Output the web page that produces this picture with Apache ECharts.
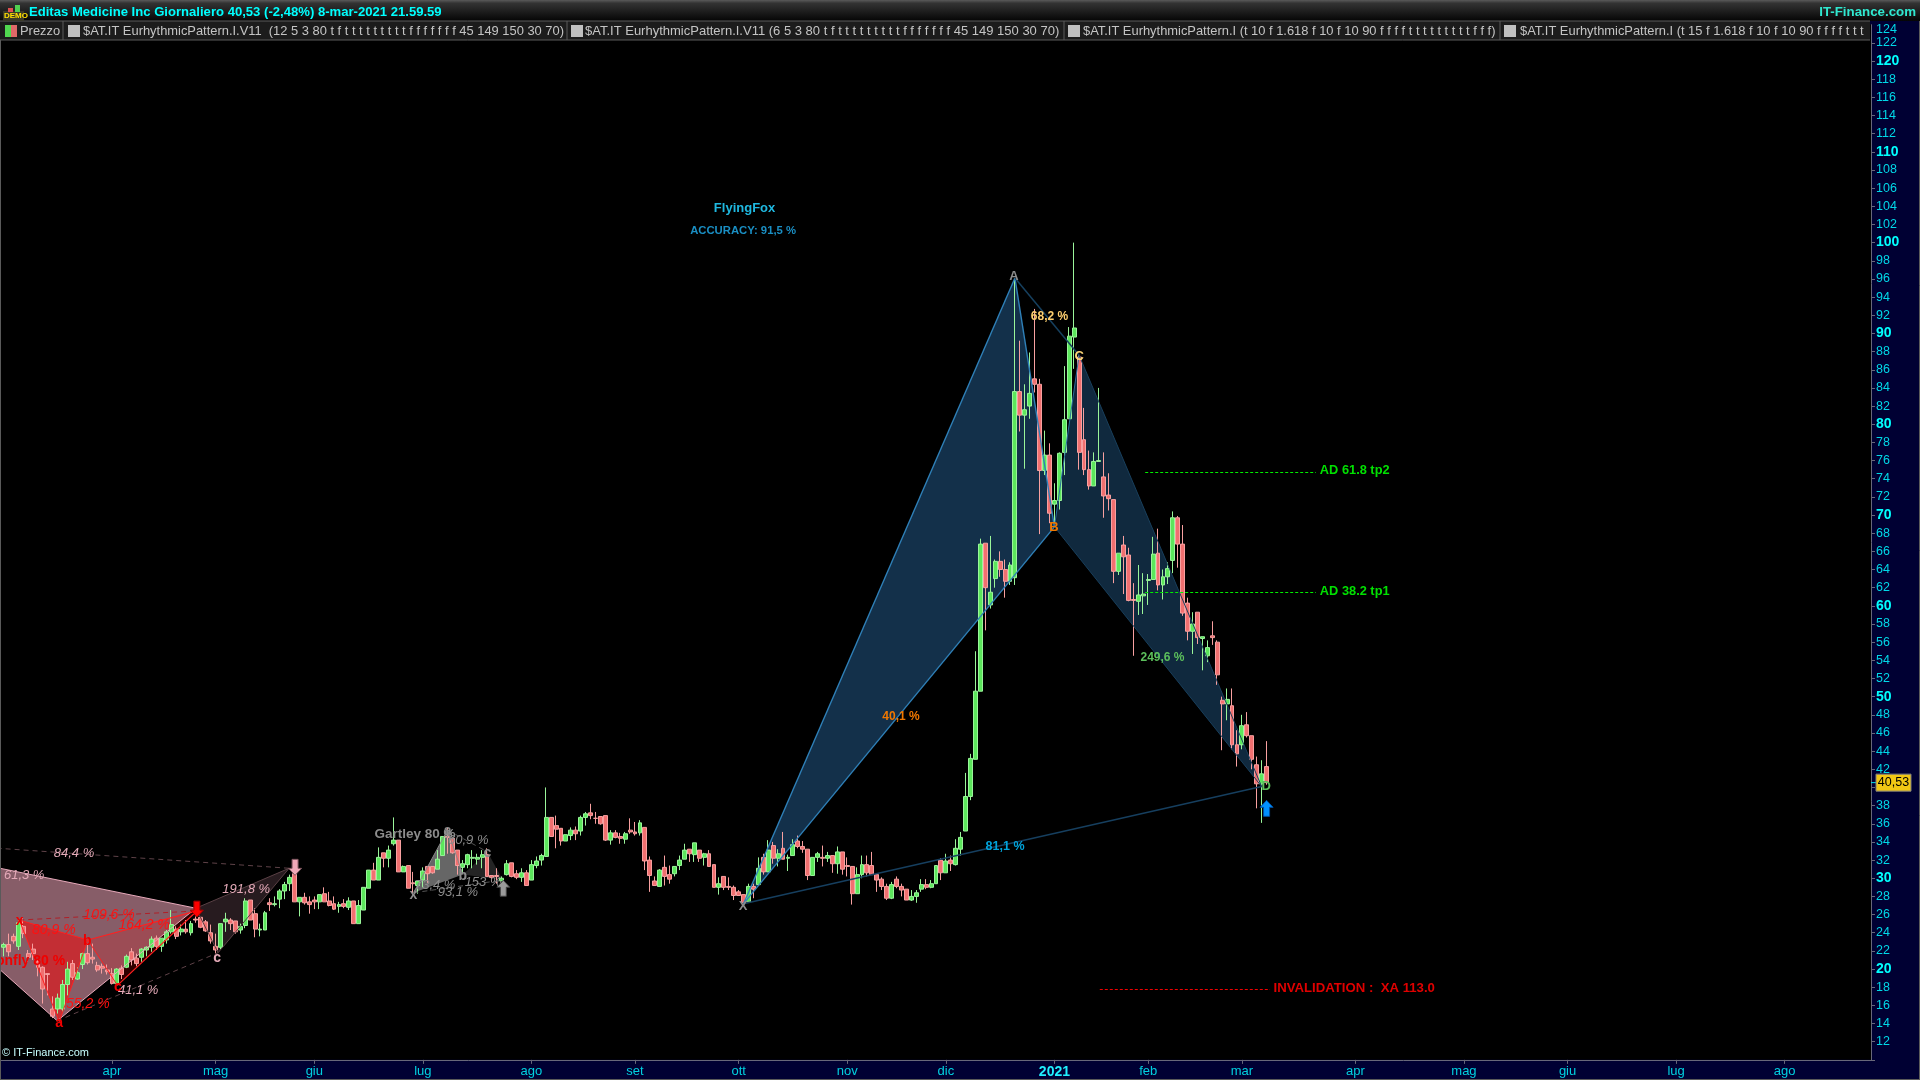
<!DOCTYPE html>
<html><head><meta charset="utf-8"><title>Editas Medicine</title>
<style>html,body{margin:0;padding:0;background:#000}#c{width:1920px;height:1080px}</style>
<script src="https://cdn.jsdelivr.net/npm/echarts@6/dist/echarts.min.js"></script></head>
<body><div id="c"></div>
<script>
// ---------- price data (one entry per trading day, from 2 Mar 2020 to 8 Mar 2021)
const candleOpen=[22.4,22.7,23.6,22.5,24.7,21.7,22.2,20.8,20.2,19.5,
15.6,15.6,15.6,18.3,20.6,18.9,20.5,21.7,21.3,20.4,
20.3,19.9,19.5,18.4,20.1,20.2,21.9,21.2,21.3,22.1,
22.4,23.4,22.5,23.2,24.1,24.4,24.1,24.4,24.0,25.5,
25.7,25.2,24.0,22.5,22.4,25.2,25.4,25.3,24.3,24.8,
27.6,26.1,24.3,24.3,27.3,27.1,27.7,28.6,29.4,30.5,
27.4,27.9,27.4,27.6,27.4,28.3,27.5,27.2,26.9,27.2,
26.8,27.5,25.0,26.5,28.9,30.9,29.8,32.8,32.2,33.8,
34.2,30.7,31.4,29.5,29.2,29.8,31.3,31.3,31.0,32.5,
34.6,34.4,33.1,31.2,31.5,32.2,32.1,32.3,32.6,30.3,
30.3,29.7,30.4,31.7,30.5,30.1,30.6,29.8,31.4,32.0,
32.4,36.7,35.8,35.5,34.1,34.7,35.3,35.2,36.7,37.2,
36.6,36.8,36.9,34.2,35.0,34.6,34.3,35.3,35.1,35.0,
35.6,32.0,29.7,29.1,31.2,30.4,30.5,31.4,32.1,33.2,
32.6,33.1,32.3,32.7,31.5,29.0,30.2,29.1,29.0,28.5,
28.2,27.4,29.1,29.3,32.3,30.7,33.6,32.2,33.3,32.2,
32.5,34.1,33.5,33.2,30.3,32.3,32.3,32.2,32.5,31.6,
32.9,31.4,31.3,28.3,30.4,31.5,31.4,30.4,29.9,29.1,
27.8,29.9,29.1,28.8,27.6,28.0,28.8,29.3,29.0,29.4,
32.0,30.6,32.0,31.5,33.2,35.2,39.0,43.1,50.6,66.9,
60.1,63.0,64.9,64.0,62.7,63.1,83.6,81.0,82.0,85.0,
84.4,74.9,76.6,71.2,71.6,76.9,80.6,89.6,87.4,78.3,
75.0,73.2,75.9,74.2,72.2,71.7,63.8,66.7,65.6,60.7,
60.5,61.1,62.8,62.9,65.8,62.3,63.2,65.0,69.7,66.8,
60.3,57.2,59.3,56.4,54.5,56.7,56.0,49.6,49.2,49.0,
44.7,44.7,46.9,45.7,42.5,40.4,42.3];
const candleClose=[22.7,21.9,23.1,25.1,23.9,21.3,21.7,20.2,17.8,19.4,
14.8,16.8,18.3,20.0,19.1,19.6,21.7,20.7,21.1,19.9,
20.1,19.7,18.4,20.0,19.4,21.4,21.0,20.6,22.2,22.4,
23.3,22.5,23.4,24.1,24.9,23.6,24.4,24.1,25.0,25.4,
24.6,24.2,23.1,22.1,25.0,25.5,25.0,24.1,24.7,27.5,
25.4,24.4,24.4,26.2,27.1,27.2,28.6,29.3,30.1,27.4,
27.9,27.3,27.1,27.4,28.2,27.4,27.0,26.6,27.1,26.9,
27.5,25.0,27.0,29.0,30.9,29.8,32.3,32.2,33.1,34.2,
30.7,31.3,28.9,29.4,29.7,30.8,30.5,30.6,32.1,34.6,
34.5,32.8,31.4,31.6,32.6,32.3,32.3,32.6,30.2,30.1,
30.2,30.0,31.6,30.2,30.1,30.6,29.2,31.5,31.9,32.5,
36.7,34.6,35.4,34.1,34.8,35.3,34.9,36.7,37.1,36.9,
36.6,36.0,34.2,35.0,34.5,34.4,34.9,35.1,34.9,36.1,
31.9,30.3,29.2,30.9,30.2,29.9,31.3,32.0,33.1,32.7,
33.9,32.2,32.7,31.3,29.0,29.4,29.0,29.0,28.1,28.1,
27.3,29.1,28.8,31.1,30.7,33.1,32.2,32.7,32.1,32.3,
33.7,33.5,33.2,30.3,32.3,32.7,32.2,32.5,31.6,32.9,
31.0,31.3,28.3,30.4,31.5,30.6,30.4,29.8,29.1,27.8,
29.3,29.1,28.7,27.6,28.0,28.4,29.3,29.0,29.4,31.4,
30.6,31.9,31.6,33.3,34.5,39.0,43.2,50.6,66.8,62.0,
61.5,64.9,64.0,62.7,64.5,83.6,81.0,81.6,83.4,84.4,
74.9,76.6,70.2,71.6,76.8,80.5,89.7,90.6,76.9,75.0,
73.2,75.9,76.0,72.1,71.8,63.8,65.8,65.4,60.6,60.6,
61.2,61.3,62.9,65.7,62.3,63.2,64.1,69.7,66.8,59.2,
57.2,58.0,56.5,56.6,55.4,56.5,52.4,49.2,49.7,44.7,
43.7,46.8,45.7,43.1,40.4,41.5,40.53];
const candleLow=[21.4,21.4,22.8,22.1,23.4,20.8,21.0,19.2,16.2,17.1,
14.6,15.1,15.3,17.1,18.8,18.8,20.0,20.5,20.6,19.7,
19.5,19.4,18.3,18.3,18.9,20.1,20.4,20.3,20.8,21.4,
21.9,22.1,21.9,22.8,23.9,23.3,23.7,23.9,23.7,25.1,
24.5,24.1,22.8,21.7,22.2,24.1,24.3,23.9,23.9,24.5,
25.4,23.5,23.6,24.3,26.4,26.9,26.7,27.7,28.6,27.4,
25.8,27.1,26.1,26.6,26.6,27.4,26.9,26.5,26.2,26.7,
26.5,25.0,25.0,26.5,28.9,29.8,29.8,31.2,31.2,33.6,
30.7,30.7,28.9,28.2,28.3,29.0,29.5,30.5,31.0,32.5,
32.7,32.7,30.4,30.5,31.1,31.1,31.5,31.1,30.2,29.6,
29.4,29.7,30.3,30.1,29.9,29.6,29.2,29.8,31.1,31.4,
32.4,34.6,33.3,33.6,34.1,34.2,34.2,34.7,35.8,36.5,
36.0,35.9,34.1,33.7,34.4,33.8,33.8,34.9,34.7,34.7,
30.9,28.5,29.2,29.1,29.2,29.4,30.2,30.9,32.1,31.8,
31.8,31.8,31.4,31.3,29.0,28.2,28.7,28.7,27.6,28.1,
27.1,27.4,27.8,29.3,30.4,30.7,31.6,31.3,32.1,30.8,
32.5,33.3,32.8,29.8,30.3,31.8,31.3,31.8,30.6,30.5,
30.4,30.2,27.1,28.3,30.0,30.2,30.4,28.5,28.7,27.6,
27.7,28.9,28.0,27.6,27.5,27.3,28.5,28.8,28.9,29.4,
29.8,30.6,30.8,31.4,32.5,35.2,38.6,43.1,50.6,57.3,
59.7,62.0,63.2,60.9,62.3,62.3,79.2,75.1,80.6,83.5,
67.9,74.4,69.1,69.1,70.6,74.4,80.6,86.1,75.0,74.4,
72.8,73.2,75.9,69.7,70.5,62.5,63.4,61.3,60.5,54.5,
59.0,59.1,60.1,62.9,61.7,60.7,62.4,63.6,64.2,58.9,
56.2,54.7,55.8,52.9,53.8,55.7,51.3,44.1,47.4,44.2,
42.3,44.2,45.5,42.0,37.7,36.1,40.3];
const candleHigh=[22.9,23.9,23.9,25.5,25.6,22.1,22.8,21.0,20.3,19.5,
17.0,17.3,18.8,20.8,21.0,20.2,21.8,22.8,22.8,20.8,
20.6,20.5,20.1,20.1,20.4,21.6,22.3,21.7,22.3,22.5,
23.6,23.7,23.4,24.3,26.5,24.7,24.9,25.4,25.3,25.8,
25.7,25.4,24.9,23.9,25.0,26.2,25.6,25.3,25.0,27.8,
27.6,26.7,25.0,26.4,27.8,28.0,28.8,29.6,30.4,30.9,
27.9,28.4,28.0,28.0,28.2,29.0,28.5,28.0,27.4,27.7,
27.9,27.5,27.6,29.0,30.9,31.7,33.4,32.8,33.6,36.7,
34.2,31.4,31.4,30.7,29.7,31.2,31.3,31.3,33.1,34.6,
35.6,34.4,33.1,32.0,32.7,33.1,32.7,33.1,33.3,30.3,
31.1,30.2,32.0,31.7,30.9,31.1,30.9,32.0,32.4,32.7,
40.0,36.7,36.9,35.5,34.8,35.6,35.7,36.9,37.3,38.2,
37.3,36.8,36.9,35.3,35.3,35.0,35.1,36.6,36.2,36.4,
35.6,32.4,30.2,31.0,32.5,31.4,31.3,32.5,33.8,33.2,
33.9,33.1,32.8,33.1,31.5,30.1,30.2,30.1,29.2,28.7,
28.2,29.4,29.4,32.3,32.7,34.2,34.0,33.2,35.1,32.6,
34.3,34.7,34.1,33.2,32.3,32.9,33.6,32.9,32.5,33.5,
32.9,32.3,31.3,31.2,32.5,32.5,32.9,30.5,30.1,29.4,
29.6,30.2,29.4,28.8,28.7,28.7,29.9,29.9,29.8,31.4,
32.2,32.7,32.5,34.3,35.1,41.6,43.7,55.0,67.4,66.9,
67.7,65.1,66.0,65.1,64.8,96.1,89.2,84.4,87.9,92.7,
85.0,79.3,77.9,73.5,76.9,86.4,90.7,100.0,87.6,81.8,
77.1,76.9,84.0,76.9,74.6,71.7,65.8,67.7,66.4,62.5,
64.5,63.6,63.5,67.6,68.5,64.0,64.8,70.4,69.9,68.9,
60.9,59.3,59.3,56.6,56.2,58.3,56.2,50.0,50.9,50.9,
46.3,48.0,48.3,45.7,43.4,43.0,45.1];
const lastPrice=40.53, lastPriceLabel='40,53';
const topTick=124;

// ---------- time axis
const dayCount=379;
const monthNames=['apr','mag','giu','lug','ago','set','ott','nov','dic','2021','feb','mar','apr','mag','giu','lug','ago'];
const monthStart=[22,43,63,85,107,128,149,171,191,213,232,251,274,296,317,339,361];

// ---------- harmonic pattern vertices, [trading-day index, price]
const foxX=[150,27.2],foxA=[205,96.1],foxB=[213,68.7],foxC=[218,87.6],foxD=[255,40.1];
const dragX=[3.2,25.4],dragA=[11.3,14.2],dragB=[17.1,23.2],dragC=[23.1,18.2],dragD=[39.2,26.4];
const pinkX=[-30.5,34.4],pinkA=[10.9,14.3],pinkB=[39,26.7],pinkC=[43.5,21.8],pinkD=[57.9,31.1];
const gartX=[83.1,28.4],gartA=[90,35.3],gartB=[93.1,30.4],gartC=[98.1,32.9],gartD=[101.2,29.8];
const targetLine1=[[231.4,74.7],[266,74.7]], targetLine2=[[231.4,61.5],[266,61.5]], invalidLine=[[222.2,17.8],[256.7,17.8]];

// ---------- annotations
const titleTexts=['FlyingFox'],titleX=[150.2],titleY=[103.9];
const accTexts=['ACCURACY: 91,5 %'],accX=[149.9],accY=[101.4];
const ratioOrange=['40,1 %'],ratioOrangeX=[181.9],ratioOrangeY=[47.9];
const ratioGold=['68,2 %'],ratioGoldX=[212],ratioGoldY=[91.9];
const ratioBlue=['81,1 %'],ratioBlueX=[203],ratioBlueY=[33.6];
const ratioGreen=['249,6 %'],ratioGreenX=[234.9],ratioGreenY=[54.4];
const targetTexts=['AD 61.8 tp2','AD 38.2 tp1'],targetX=[266.8,266.8],targetY=[75.0,61.7];
const invalidTexts=['INVALIDATION :  XA 113.0'],invalidX=[257.4],invalidY=[18.0];
const pinkRatios=['61,3 %','84,4 %','191,8 %','41,1 %'],pinkRatioX=[4.2,14.3,49.2,27.3],pinkRatioY=[30.4,32.8,28.9,17.8];
const redRatios=['109,6 %','164,2 %','80,9 %','55,2 %'],redRatioX=[21.4,28.5,10.2,17.1],redRatioY=[26.1,25.0,24.4,16.3];
const grayRatios=['60,9 %','73,4 %','93,1 %','153 %'],grayRatioX=[94.2,87.5,92.1,97.2],grayRatioY=[34.3,29.3,28.6,29.6];

const SANS='"Liberation Sans",Arial,sans-serif';

const categories=Array.from({length:dayCount},(_,i)=>{const k=monthStart.indexOf(i);return k>=0?monthNames[k]:'';});
const candles=candleOpen.map((o,i)=>[o,candleClose[i],candleLow[i],candleHigh[i]]);

function overlay(z,clip,draw){
  return {type:'custom',xAxisIndex:1,yAxisIndex:0,silent:true,clip:clip,z:z,data:[[0,0]],animation:false,
    renderItem:(p,api)=>draw(api)};
}
function poly(points,fill,z){
  return overlay(z,true,api=>({type:'polygon',shape:{points:points.map(q=>api.coord(q))},style:{fill:fill}}));
}
function line(points,stroke,width,dash,z,snap){
  return overlay(z,true,api=>({type:'polyline',shape:{points:points.map(q=>{const c=api.coord(q);return snap?[c[0],Math.round(c[1])+0.5]:c;})},
    style:{stroke:stroke,lineWidth:width,fill:'none',lineDash:dash||null}}));
}
function notes(texts,xs,ys,font,fill,align){
  return overlay(8,false,api=>({type:'group',children:texts.map((t,i)=>{
    const c=api.coord([xs[i],ys[i]]);
    return {type:'text',style:{x:c[0],y:c[1]+1,text:t,font:font,fill:fill,align:align||'center',verticalAlign:'middle'}};
  })}));
}
function arrow(at,dir,fill,edge){
  return overlay(9,false,api=>{
    const c=api.coord(at);
    const shape=[[0,-8],[6.5,-1],[3,-1],[3,8],[-3,8],[-3,-1],[-6.5,-1]];
    return {type:'polygon',shape:{points:shape.map(s=>[c[0]+s[0],c[1]+s[1]*dir])},style:{fill:fill,stroke:edge,lineWidth:1}};
  });
}

const series=[
  poly([pinkX,pinkA,pinkB],'rgba(245,170,190,0.55)',1),
  poly([pinkB,pinkC,pinkD],'rgba(245,170,190,0.16)',1),
  poly([dragX,dragA,dragB],'rgba(255,0,0,0.5)',1),
  poly([dragB,dragC,dragD],'rgba(255,0,0,0.18)',1),
  poly([gartX,gartA,gartB],'rgba(255,255,255,0.4)',1),
  poly([gartB,gartC,gartD],'rgba(255,255,255,0.14)',1),
  poly([foxX,foxA,foxB],'rgba(60,150,230,0.32)',1),
  poly([foxB,foxC,foxD],'rgba(60,150,230,0.27)',1),
  {type:'candlestick',name:'Prezzo',xAxisIndex:0,yAxisIndex:0,z:3,barWidth:4.4,data:candles,silent:true,animation:false,
    itemStyle:{color:'#5ce65c',color0:'#f07070',borderColor:'#9af59a',borderColor0:'#f8a0a0',borderWidth:1}},
  line([pinkX,pinkB],'#e8aabb',1,null,5),
  line([pinkX,pinkA],'#e8aabb',1,null,5),
  line([pinkA,pinkB],'#e8aabb',1,null,5),
  line([pinkB,pinkC],'#5a4045',1,null,5),
  line([pinkC,pinkD],'#5a4045',1,null,5),
  line([pinkB,pinkD],'#5a4045',1,null,5),
  line([pinkX,pinkD],'#5e4248',1,[5,4],5),
  line([pinkA,pinkC],'#5e4248',1,[5,4],5),
  line([dragX,dragA],'#ff2020',1,null,6),
  line([dragA,dragB],'#ff2020',1,null,6),
  line([dragX,dragB],'#ff2020',1,null,6),
  line([dragB,dragC],'#ff2020',1,null,6),
  line([dragC,dragD],'#ff2020',1.2,null,6),
  line([dragB,dragD],'#ff2020',1.2,null,6),
  line([dragX,dragD],'#b02028',1,[5,4],6),
  line([gartX,gartA],'#8a8a8a',1,null,5),
  line([gartA,gartB],'#8a8a8a',1,null,5),
  line([gartX,gartD],'#555',1,[5,4],5),
  line([gartA,gartC],'#555',1,[5,4],5),
  line([foxX,foxA],'#2f80b8',1.4,null,5),
  line([foxA,foxB],'#2f80b8',1.4,null,5),
  line([foxX,foxB],'#2f80b8',1.4,null,5),
  line([foxA,foxC],'#16405f',1.5,null,5),
  line([foxX,foxD],'#163f5f',1.5,null,5),
  line([foxB,foxC],'#2a6f9f',1,null,5),
  line([foxB,foxD],'#183f5c',1,null,5),
  line([foxC,foxD],'#183f5c',1,null,5),
  line(targetLine1,'#00f000',1,[3,2],6,true),
  line(targetLine2,'#00f000',1,[3,2],6,true),
  line(invalidLine,'#f00000',1,[3,2],6,true),
  notes(titleTexts,titleX,titleY,'bold 13px '+SANS,'#1fb8e0'),
  notes(accTexts,accX,accY,'bold 11.3px '+SANS,'#1a8fc4'),
  notes(ratioOrange,ratioOrangeX,ratioOrangeY,'bold 12px '+SANS,'#f07800'),
  notes(ratioGold,ratioGoldX,ratioGoldY,'bold 12px '+SANS,'#ffd070'),
  notes(ratioBlue,ratioBlueX,ratioBlueY,'bold 12.5px '+SANS,'#00a4dc'),
  notes(ratioGreen,ratioGreenX,ratioGreenY,'bold 12px '+SANS,'#5cc05c'),
  notes(targetTexts,targetX,targetY,'bold 12.8px '+SANS,'#00e000','left'),
  notes(invalidTexts,invalidX,invalidY,'bold 13.2px '+SANS,'#e00000','left'),
  notes(pinkRatios,pinkRatioX,pinkRatioY,'italic 13px '+SANS,'#e4aab8'),
  notes(redRatios,redRatioX,redRatioY,'italic 14px '+SANS,'#ff1010'),
  notes(grayRatios,grayRatioX,grayRatioY,'italic 13px '+SANS,'#8c8c8c'),
  notes(['Dragonfly 80 %'],[12.5],[21.0],'bold 14px '+SANS,'#f00000','right'),
  notes(['Gartley 80 %'],[83.4],[34.9],'bold 13.5px '+SANS,'#8c8c8c'),
  notes(['x','a','b','c'],[3.3,11.3,17.0,23.2],[25.4,14.1,23.2,18.1],'bold 14px '+SANS,'#f00000'),
  notes(['c'],[43.3],[21.3],'bold 14px '+SANS,'#e4aab8'),
  notes(['x','a','b','c'],[83.1,90,93.1,98.1],[28.3,35.3,30.3,32.9],'bold 14px '+SANS,'#8c8c8c'),
  notes(['A'],[204.8],[96.4],'bold 13px '+SANS,'#8c8c8c'),
  notes(['B'],[212.9],[68.7],'bold 13px '+SANS,'#f07800'),
  notes(['C'],[218],[87.6],'bold 13px '+SANS,'#ffd878'),
  notes(['D'],[255.9],[40.2],'bold 13px '+SANS,'#5cc05c'),
  notes(['X'],[149.9],[27.0],'bold 13px '+SANS,'#8c8c8c'),
  arrow([256,37.7],1,'#0090ff','#0050a0'),
  arrow([101.3,28.9],1,'#9a9a9a','#404040'),
  arrow([39.2,26.6],-1,'#ff0000','#a00000'),
  arrow([59.1,31.2],-1,'#f0a8b8','#805860'),
  overlay(20,false,api=>{
    const c=api.coord([dayCount-0.5,lastPrice]);
    const t=api.coord([dayCount-0.5,topTick]);
    return {type:'group',children:[
      {type:'text',style:{x:t[0]+5,y:t[1]+5,text:String(topTick),font:'12.5px '+SANS,fill:'#00d8e8',align:'left',verticalAlign:'middle'}},
      {type:'line',shape:{x1:c[0],y1:c[1],x2:c[0]+5,y2:c[1]},style:{stroke:'#00e0f0',lineWidth:1}},
      {type:'rect',shape:{x:c[0]+5,y:c[1]-8.5,width:35,height:17},style:{fill:'#f2c814',stroke:'#808080',lineWidth:1}},
      {type:'text',style:{x:c[0]+22.5,y:c[1],text:lastPriceLabel,font:'12.5px '+SANS,fill:'#000',align:'center',verticalAlign:'middle'}}
    ]};
  })
];

const barText=(t,x,w,size)=>({type:'text',z:102,silent:true,style:{x:x,y:31,text:t,font:(size||12.9)+'px '+SANS,fill:'#c4c4c4',verticalAlign:'middle',width:w,overflow:'truncate',ellipsis:''}});
const box=x=>({type:'rect',z:102,silent:true,shape:{x:x,y:25,width:12,height:12},style:{fill:'#c0c0c0'}});
const sep=x=>({type:'line',z:102,silent:true,shape:{x1:x,y1:21,x2:x,y2:40},style:{stroke:'#5a5a5a',lineWidth:1}});

const graphic=[
  {type:'rect',z:100,silent:true,shape:{x:0,y:0,width:1920,height:21},
    style:{fill:new echarts.graphic.LinearGradient(0,0,0,1,[{offset:0,color:'#5a5a5a'},{offset:0.15,color:'#333'},{offset:1,color:'#050505'}])}},
  {type:'rect',z:100,silent:true,shape:{x:0,y:21,width:1870,height:19},style:{fill:'#1c1c1c'}},
  {type:'line',z:101,silent:true,shape:{x1:0,y1:21,x2:1870,y2:21},style:{stroke:'#5a5a5a',lineWidth:1}},
  {type:'line',z:101,silent:true,shape:{x1:0,y1:40,x2:1870,y2:40},style:{stroke:'#5a5a5a',lineWidth:1}},
  {type:'rect',z:102,silent:true,shape:{x:3,y:11,width:21,height:10},style:{fill:'#3a3a28'}},
  {type:'rect',z:102,silent:true,shape:{x:8,y:8,width:5,height:4},style:{fill:'#e05050'}},
  {type:'rect',z:102,silent:true,shape:{x:15,y:5,width:5,height:7},style:{fill:'#50d050'}},
  {type:'text',z:103,silent:true,style:{x:4,y:16,text:'DEMO',font:'bold 8px '+SANS,fill:'#ffe000',verticalAlign:'middle'}},
  {type:'text',z:102,silent:true,style:{x:29,y:12,text:'Editas Medicine Inc Giornaliero 40,53 (-2,48%) 8-mar-2021 21.59.59',font:'bold 13.1px '+SANS,fill:'#00ffff',verticalAlign:'middle'}},
  {type:'text',z:102,silent:true,style:{x:1916,y:12,text:'IT-Finance.com',font:'bold 13.3px '+SANS,fill:'#30e8d0',align:'right',verticalAlign:'middle'}},
  sep(63),sep(567),sep(1064),sep(1500),
  {type:'rect',z:102,silent:true,shape:{x:5,y:25,width:6,height:12},style:{fill:'#50d850'}},
  {type:'rect',z:102,silent:true,shape:{x:11,y:25,width:6,height:12},style:{fill:'#e06868'}},
  barText('Prezzo',20,42),
  box(68),barText('$AT.IT EurhythmicPattern.I.V11  (12 5 3 80 t f t t t t t t t t t f f f f f f f 45 149 150 30 70)',83,484),
  box(571),barText('$AT.IT EurhythmicPattern.I.V11 (6 5 3 80 t f t t t t t t t t t f f f f f f f 45 149 150 30 70)',585,478,13),
  box(1068),barText('$AT.IT EurhythmicPattern.I (t 10 f 1.618 f 10 f 10 90 f f f f t t t t t t t t t f f f)',1083,420),
  box(1504),barText('$AT.IT EurhythmicPattern.I (t 15 f 1.618 f 10 f 10 90 f f f f t t t t t t t t t f f f)',1520,350),
  {type:'text',z:102,silent:true,style:{x:2,y:1053,text:'\u00a9 IT-Finance.com',font:'11px '+SANS,fill:'#c8ffff',verticalAlign:'middle'}},
  {type:'line',z:102,silent:true,shape:{x1:0.5,y1:40,x2:0.5,y2:1080},style:{stroke:'#5a5a5a',lineWidth:1}},
  {type:'line',z:102,silent:true,shape:{x1:0,y1:1079.5,x2:1920,y2:1079.5},style:{stroke:'#5a5a5a',lineWidth:1}},
  {type:'line',z:102,silent:true,shape:{x1:1919.5,y1:21,x2:1919.5,y2:1080},style:{stroke:'#5a5a5a',lineWidth:1}}
];

const chart=echarts.init(document.getElementById('c'),null,{width:1920,height:1080,renderer:'canvas'});
chart.setOption({
  animation:false,
  backgroundColor:'#000033',
  tooltip:{show:false},legend:{show:false},
  grid:{left:1,right:49,top:24.7,bottom:20.14,show:true,backgroundColor:'#000',borderWidth:0,containLabel:false},
  xAxis:[
    {type:'category',data:categories,boundaryGap:true,position:'bottom',
     axisLine:{onZero:false,lineStyle:{color:'#68687a',width:1}},
     axisTick:{show:true,length:4,alignWithLabel:true,interval:(i,v)=>v!=='',lineStyle:{color:'#68687a'}},
     splitLine:{show:false},
     axisLabel:{interval:(i,v)=>v!=='',margin:5,hideOverlap:false,
       formatter:v=>v==='2021'?'{y|2021}':'{m|'+v+'}',
       rich:{m:{fontFamily:'Liberation Sans',fontSize:13,color:'#00d0e0'},y:{fontFamily:'Liberation Sans',fontWeight:'bold',fontSize:14,color:'#20f0ff'}}}},
    {type:'value',min:-0.5,max:dayCount-0.5,show:false,splitLine:{show:false}}
  ],
  yAxis:[{type:'value',position:'right',min:10,max:topTick,interval:2,scale:false,
    axisLine:{show:true,onZero:false,lineStyle:{color:'#68687a',width:1}},
    axisTick:{show:true,length:4,lineStyle:{color:'#68687a'}},
    splitLine:{show:false},
    axisLabel:{show:true,margin:5,showMaxLabel:false,hideOverlap:false,
      formatter:v=>v===10||v===topTick?'':(v%10===0?'{b|'+v+'}':'{n|'+v+'}'),
      rich:{n:{fontFamily:'Liberation Sans',fontSize:12.5,color:'#00d8e8'},b:{fontFamily:'Liberation Sans',fontWeight:'bold',fontSize:14,color:'#00ffff'}}}}],
  graphic:graphic,
  series:series
});
</script></body></html>
